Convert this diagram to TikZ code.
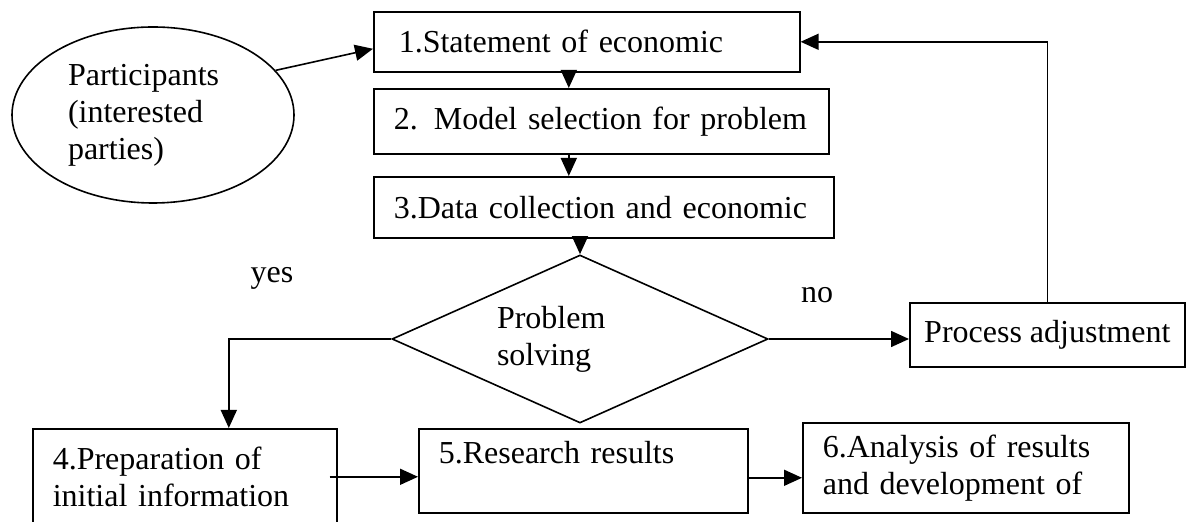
\documentclass[tikz,border=0pt]{standalone}
\usepackage{fontspec}
\setmainfont{Liberation Serif}
\usetikzlibrary{shapes.geometric,arrows.meta}

\begin{document}
\begin{tikzpicture}[x=0.5pt, y=-0.5pt, line width=0.8pt,
    font=\fontsize{16}{18.5}\selectfont,
    stage/.style={draw, rectangle, anchor=north west, inner xsep=10pt, inner ysep=0pt, align=left},
    arr/.style={-{Triangle[length=9pt, width=8pt]}}]
\useasboundingbox (0,0) rectangle (1188,522);
\clip (0,0) rectangle (1188,522);

\node[draw, ellipse, minimum width=141pt, minimum height=88pt, inner sep=0pt, text width=85pt, align=left] (part) at (153,115) {Participants\\(interested\\parties)};

\node[stage, inner xsep=12.5pt, text width=188pt, minimum height=30pt] (s1) at (373,11) {1.Statement of economic};
\node[stage, text width=207.5pt, minimum height=32.5pt] (s2) at (373,88) {2. Model selection for problem};
\node[stage, text width=210pt, minimum height=30.5pt] (s3) at (373,176) {3.Data collection and economic};

\node[draw, diamond, shape aspect=2.2, minimum width=188pt, minimum height=84pt, inner sep=0pt, text width=83pt, align=left] (dec) at (580,339) {Problem\\solving};

\node[stage, inner xsep=7pt, minimum width=137.5pt, minimum height=32pt] (adj) at (909,302) {Process adjustment};

\node[stage, text width=132pt, minimum height=48pt] (s4) at (32,428) {4.Preparation of\\initial information};
\node[stage, text width=144.5pt, minimum height=42pt] (s5) at (418,428) {5.Research results\\\phantom{x}};
\node[stage, text width=143pt, minimum height=45pt] (s6) at (802,422) {6.Analysis of results\\and development of};

\node (yes) at (272,278) {yes};
\node (no) at (817,295) {no};

\draw[arr] (part.20) -- ([yshift=-3.5pt]s1.west);
\draw[arr] ([xshift=-9pt]s1.south) -- ([xshift=-9pt]s1.south |- s2.north);
\draw[arr] ([xshift=-9pt]s1.south |- s2.south) -- ([xshift=-9pt]s1.south |- s3.north);
\draw[arr] (s3.south -| dec.north) -- (dec.north);
\draw[arr] (dec.west) -| ([xshift=22pt]s4.north);
\draw[arr] (dec.east) -- (dec.east -| adj.west);
\draw[arr] (adj.north) |- (s1.east);
\draw[arr] ([xshift=-4pt]s4.east) -- (s4.east -| s5.west);
\draw[arr] ([yshift=-3.5pt]s5.east) -- ([yshift=-3.5pt]s5.east -| s6.west);
\end{tikzpicture}
\end{document}
